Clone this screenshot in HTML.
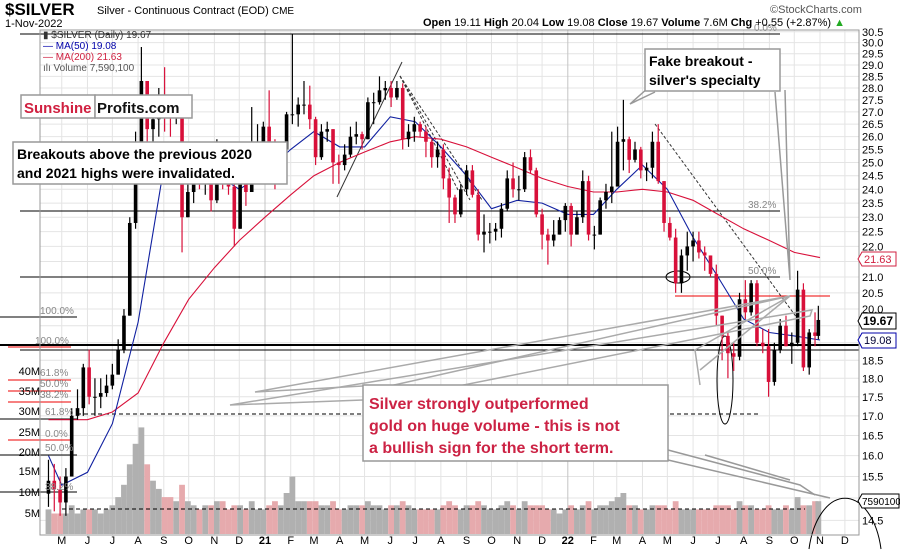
<!DOCTYPE html>
<html><head><meta charset="utf-8"><style>
html,body{margin:0;background:#fff;overflow:hidden;width:900px;height:550px;}
svg{display:block;font-family:"Liberation Sans",sans-serif;overflow:hidden;}
</style></head><body>
<svg id="chart" width="900" height="550" viewBox="0 0 900 550">
<g id="grid"></g>
<g id="vol"></g>
<g id="anno">
  <line x1="20" y1="34" x2="780" y2="34" stroke="#000" stroke-width="1"/>
  <line x1="20" y1="211" x2="780" y2="211" stroke="#000"/>
  <line x1="20" y1="277" x2="780" y2="277" stroke="#000"/>
  <line x1="0" y1="345" x2="859" y2="345" stroke="#000" stroke-width="2"/>
  <line x1="20" y1="350" x2="859" y2="350" stroke="#000"/>
  <line x1="0" y1="317" x2="77" y2="317" stroke="#000"/>
  <line x1="8" y1="347" x2="71" y2="347" stroke="#e00"/>
  <line x1="8" y1="380" x2="71" y2="380" stroke="#e00"/>
  <line x1="8" y1="391" x2="71" y2="391" stroke="#e00"/>
  <line x1="8" y1="402" x2="71" y2="402" stroke="#e00"/>
  <line x1="8" y1="440" x2="71" y2="440" stroke="#e00"/>
  <line x1="0" y1="419" x2="77" y2="419" stroke="#000"/>
  <line x1="0" y1="455" x2="77" y2="455" stroke="#000"/>
  <line x1="0" y1="492" x2="77" y2="492" stroke="#000"/>
  <line x1="77" y1="414" x2="480" y2="414" stroke="#000" stroke-dasharray="4,3"/>
  <line x1="670" y1="414" x2="758" y2="414" stroke="#000" stroke-dasharray="4,3"/>
  <line x1="62" y1="509" x2="805" y2="509" stroke="#000" stroke-dasharray="4,3"/>
  <line x1="675" y1="296" x2="830" y2="296" stroke="#e00"/>
  <ellipse cx="678" cy="277" rx="12" ry="6" fill="none" stroke="#000"/>
  <ellipse cx="725" cy="380" rx="8" ry="44" fill="none" stroke="#000"/>
  <line x1="337" y1="197" x2="402" y2="62" stroke="#333"/>
  <line x1="400" y1="76" x2="482" y2="200" stroke="#333" stroke-dasharray="3,2"/>
  <line x1="400" y1="76" x2="470" y2="200" stroke="#333" stroke-dasharray="3,2"/>
  <line x1="400" y1="76" x2="458" y2="190" stroke="#333" stroke-dasharray="3,2"/>
  <line x1="655" y1="124" x2="800" y2="322" stroke="#333" stroke-dasharray="3,2"/>
  <path d="M809,549 A37,66 0 0 1 881,549" fill="none" stroke="#000"/>
</g>
<g id="ma"></g>
<g id="candles"></g>
<g id="pointers" fill="none" stroke="#999" stroke-width="1.5">
  <polyline points="700,385 695,350 790,296 700,370" stroke="#aaa"/>
  <polyline points="363,386 255,392 790,296 363,392" stroke="#aaa"/>
  <polyline points="363,400 230,405 812,310 810,316 363,405" stroke="#aaa"/>
  <polyline points="668,450 800,485 815,495"/>
  <polyline points="668,460 830,498"/>
  <polyline points="705,455 790,480"/>
  <polyline points="648,88 630,104 655,92"/>
  <polyline points="775,92 790,280 785,90"/>
</g>
<g id="text-anno" font-size="10" fill="#888">
  <text x="754" y="31">0.0%</text>
  <text x="748" y="208">38.2%</text>
  <text x="748" y="274">50.0%</text>
  <text x="40" y="314">100.0%</text>
  <text x="35" y="344">100.0%</text>
  <text x="40" y="376">61.8%</text>
  <text x="40" y="387">50.0%</text>
  <text x="40" y="398">38.2%</text>
  <text x="45" y="415">61.8%</text>
  <text x="45" y="437">0.0%</text>
  <text x="45" y="451">50.0%</text>
  <text x="45" y="490">38.2%</text>
</g>
<g id="volaxis" font-size="11" fill="#000" text-anchor="end">
  <text x="40" y="375">40M</text><text x="40" y="395">35M</text><text x="40" y="415">30M</text>
  <text x="40" y="436">25M</text><text x="40" y="456">20M</text><text x="40" y="475">15M</text>
  <text x="40" y="496">10M</text><text x="40" y="517">5M</text>
</g>
<rect x="40" y="30" width="819" height="505" fill="none" stroke="#999"/>
<g id="yaxis"></g>
<g id="xaxis"></g>
<text x="5" y="15" font-size="17" font-weight="bold">$SILVER</text>
<text x="97" y="14" font-size="11">Silver - Continuous Contract (EOD) <tspan font-size="10">CME</tspan></text>
<text x="5" y="27" font-size="11">1-Nov-2022</text>
<text x="423" y="26" font-size="11"><tspan font-weight="bold">Open</tspan> 19.11 <tspan font-weight="bold">High</tspan> 20.04 <tspan font-weight="bold">Low</tspan> 19.08 <tspan font-weight="bold">Close</tspan> 19.67 <tspan font-weight="bold">Volume</tspan> 7.6M <tspan font-weight="bold">Chg</tspan> +0.55 (+2.87%) <tspan fill="#2a2">▲</tspan></text>
<text x="770" y="13" font-size="11" fill="#555">©StockCharts.com</text>
<g font-size="10">
  <text x="43" y="38" fill="#333">▮ $SILVER (Daily) 19.67</text>
  <text x="43" y="49" fill="#00a">— MA(50) 19.08</text>
  <text x="43" y="60" fill="#d02040">— MA(200) 21.63</text>
  <text x="43" y="71" fill="#555">ılı Volume 7,590,100</text>
</g>
<g font-size="11">
  <polygon points="858,259 862,252 896,252 896,266 862,266" fill="#fff" stroke="#d02040"/>
  <text x="864" y="263" fill="#d02040">21.63</text>
  <polygon points="858,321 862,313 896,313 896,329 862,329" fill="#fff" stroke="#000"/>
  <text x="863" y="325" font-weight="bold" font-size="12">19.67</text>
  <polygon points="858,340 862,333 896,333 896,348 862,348" fill="#fff" stroke="#00a"/>
  <text x="864" y="344" fill="#003">19.08</text>
  <polygon points="858,501 862,494 899,494 899,508 862,508" fill="#fff" stroke="#000"/>
  <text x="862" y="505" font-size="10">7590100</text>
</g>
<g>
  <rect x="21" y="95" width="74" height="23" fill="#fff" stroke="#999" stroke-width="1.5"/>
  <rect x="95" y="95" width="97" height="23" fill="#fff" stroke="#999" stroke-width="1.5"/>
  <text x="24" y="113" font-size="15" font-weight="bold" fill="#d02040">Sunshine</text>
  <text x="97" y="113" font-size="15" font-weight="bold" fill="#111">Profits.com</text>
</g>
<g>
  <rect x="13" y="142" width="274" height="42" fill="#fff" stroke="#999" stroke-width="1.5"/>
  <text x="17" y="159" font-size="14" font-weight="bold">Breakouts above the previous 2020</text>
  <text x="17" y="178" font-size="14" font-weight="bold">and 2021 highs were invalidated.</text>
</g>
<g>
  <rect x="645" y="49" width="135" height="42" fill="#fff" stroke="#999" stroke-width="1.5"/>
  <text x="649" y="66" font-size="14" font-weight="bold">Fake breakout -</text>
  <text x="649" y="85" font-size="14" font-weight="bold">silver's specialty</text>
</g>
<g>
  <rect x="363" y="385" width="305" height="76" fill="#fff" stroke="#999" stroke-width="1.5"/>
  <text x="369" y="409" font-size="16" font-weight="bold" fill="#cc2244">Silver strongly outperformed</text>
  <text x="369" y="431" font-size="16" font-weight="bold" fill="#cc2244">gold on huge volume - this is not</text>
  <text x="369" y="453" font-size="16" font-weight="bold" fill="#cc2244">a bullish sign for the short term.</text>
</g>
</svg>
<script>
const closes = [15.4,15.2,14.9,15.5,17.0,17.2,18.3,17.5,17.5,17.6,17.8,18.1,18.8,19.8,22.8,24.4,28.3,26.3,26.7,27.6,26.9,26.8,26.8,23.0,23.9,25.1,24.3,24.6,23.6,25.6,24.7,24.1,22.6,24.2,23.9,25.8,25.8,
26.4,25.3,24.8,25.5,26.9,26.9,27.3,27.3,26.7,25.2,26.2,26.3,25.0,24.9,25.3,26.0,26.1,25.9,27.4,27.4,27.9,28.0,27.6,28.0,25.9,26.2,26.5,26.2,25.8,25.2,25.5,24.4,23.7,23.1,24.0,24.7,23.8,22.4,22.5,22.5,22.6,23.3,24.4,24.0,24.0,25.2,24.7,23.1,22.4,22.2,22.4,22.9,23.4,
22.4,23.0,24.3,22.4,22.4,23.6,23.9,24.1,25.8,25.9,25.1,25.5,24.7,24.8,25.8,24.3,22.8,22.3,20.8,21.7,22.0,22.2,21.8,21.7,21.1,19.8,19.2,18.7,18.6,20.3,19.9,20.8,19.0,18.9,17.9,18.8,19.5,18.9,19.0,20.6,18.3,19.3,19.2,19.67];
const highs = [15.9,15.8,15.5,15.7,17.2,17.7,18.4,18.8,18.0,18.0,18.1,18.4,19.1,20.0,23.0,26.2,29.8,27.8,27.3,28.0,28.9,27.7,27.6,25.3,24.5,25.3,25.4,25.4,25.0,25.9,25.7,24.8,24.3,24.7,25.0,27.2,26.5,
26.6,27.9,25.9,25.8,27.0,30.4,27.6,28.3,28.1,26.8,26.5,26.6,26.3,25.3,25.7,26.4,26.6,26.2,27.6,27.8,28.5,28.3,28.3,28.3,28.2,26.5,26.8,26.6,26.4,25.9,25.8,25.7,24.8,23.8,24.2,24.9,24.9,24.0,23.1,22.8,22.8,23.5,24.7,25.0,24.5,25.4,25.5,24.8,23.3,22.6,22.9,23.0,23.5,
23.5,23.2,24.7,24.5,22.7,23.7,24.2,26.2,26.4,27.5,26.0,25.8,25.6,25.0,26.2,26.5,24.0,23.0,22.6,21.9,22.5,22.5,22.5,22.0,21.6,21.4,19.8,19.3,19.0,20.5,20.9,20.9,20.9,19.4,19.4,19.0,19.7,19.8,19.3,21.2,20.8,19.4,19.9,20.1];
const lows = [14.8,14.7,14.6,14.6,15.5,16.9,17.0,17.3,17.0,17.2,17.5,17.7,18.1,18.7,19.8,22.6,24.2,24.5,25.8,26.0,26.2,26.0,26.5,21.8,23.3,23.5,24.0,23.8,23.2,23.5,24.0,23.8,22.0,22.6,23.4,24.6,25.2,
24.6,24.4,24.0,24.5,25.2,26.5,26.4,26.9,26.3,24.9,25.1,25.8,24.2,24.2,24.7,25.2,25.7,25.5,25.9,26.5,27.3,27.5,27.2,27.5,25.5,25.6,25.8,26.0,25.2,24.8,24.8,24.0,22.8,22.8,23.0,23.8,23.7,22.2,21.8,22.1,22.2,22.3,23.2,23.7,23.6,23.9,24.6,23.0,21.9,21.4,22.0,22.4,22.5,
22.0,22.4,22.8,22.2,21.9,22.4,23.3,23.5,24.1,24.7,24.6,25.0,24.4,24.3,24.4,24.2,22.5,22.2,20.5,20.5,21.2,21.5,21.6,21.2,21.0,19.5,18.5,18.0,18.2,18.5,19.7,19.8,18.9,18.7,17.5,17.8,18.7,18.9,18.4,18.9,18.2,18.1,18.9,19.1];
const volumesM = [6,5,5,5,7,5,6,6,6,5,6,7,9,12,17,22,26,17,13,11,9,9,8,12,8,7,6,7,7,8,8,6,7,7,6,8,6,
6,7,8,7,10,14,8,8,8,8,7,7,8,6,6,7,7,7,8,7,7,6,7,7,8,7,6,6,6,6,6,7,8,7,6,7,7,8,7,6,6,7,8,7,6,8,7,7,7,6,6,5,6,
7,6,7,8,6,7,7,8,9,10,7,7,6,6,7,7,7,6,8,6,6,6,6,6,6,7,7,7,6,8,7,7,6,6,7,6,6,7,6,9,7,7,8,8];
const maDates = ["2020-04-15","2020-05-01","2020-06-01","2020-07-01","2020-08-01","2020-09-01","2020-10-01","2020-11-01","2020-12-01","2021-01-01","2021-02-01","2021-03-01","2021-04-01","2021-05-01","2021-06-01","2021-07-01","2021-08-01","2021-09-01","2021-10-01","2021-11-01","2021-12-01","2022-01-01","2022-02-01","2022-03-01","2022-04-01","2022-05-01","2022-06-01","2022-07-01","2022-08-01","2022-09-01","2022-10-01","2022-11-01"];
const ma200 = [16.9,16.9,16.9,17.1,17.6,19.0,20.3,21.3,22.2,23.0,23.8,24.5,25.0,25.4,25.8,26.0,25.9,25.6,25.2,24.8,24.4,24.1,23.9,23.9,24.0,23.9,23.6,23.1,22.6,22.2,21.8,21.63];
const ma50 = [16.0,15.3,15.6,16.8,19.6,24.8,25.5,24.6,24.0,24.6,25.5,26.2,25.6,25.6,26.8,26.6,25.6,24.5,23.3,23.6,23.5,23.1,23.1,24.0,24.9,24.0,22.3,21.0,19.7,19.3,19.2,19.08];
const priceTicks = [30.5,30,29.5,29,28.5,28,27.5,27,26.5,26,25.5,25,24.5,24,23.5,23,22.5,22,21.5,21,20.5,20,19.5,19,18.5,18,17.5,17,16.5,16,15.5,15,14.5];
const monthLabels = ["M","J","J","A","S","O","N","D","21","F","M","A","M","J","J","A","S","O","N","D","22","F","M","A","M","J","J","A","S","O","N","D"];

const NS="http://www.w3.org/2000/svg";
const T0=Date.UTC(2021,0,1), DAY=86400000;
function xOf(t){return 265+(t-T0)/DAY*0.8296;}
function yOf(p){return 277-657*Math.log(p/21);}
function yVol(v){return 534-v*4.1;}
function mk(tag,attrs,parent){const e=document.createElementNS(NS,tag);for(const k in attrs)e.setAttribute(k,attrs[k]);parent.appendChild(e);return e;}

const grid=document.getElementById('grid');
priceTicks.forEach(p=>{
  const l=mk('line',{x1:40,x2:859,y1:yOf(p),y2:yOf(p),stroke:'#e4e4e4'},grid);
  
  
});
const xaxis=document.getElementById('xaxis');
monthLabels.forEach((lab,i)=>{
  const t=Date.UTC(2020,4+i,1);
  const x=xOf(t);
  const gl=mk('line',{x1:x,x2:x,y1:30,y2:535,stroke:(lab==="21"||lab==="22")?'#c4c4c4':'#e4e4e4'},grid);
  
  
  const tx=mk('text',{x:x,y:544,'font-size':11,'text-anchor':'middle','font-weight':(lab.length>1?'bold':'normal')},xaxis);
  tx.textContent=lab;
  
  
});
const yaxis=document.getElementById('yaxis');
priceTicks.forEach(p=>{
  const tx=mk('text',{x:862,y:yOf(p)+4,'font-size':11},yaxis);
  tx.textContent=p.toFixed(1);
  
  
});
const cg=document.getElementById('candles'), vg=document.getElementById('vol');
const start=Date.UTC(2020,3,17);
closes.forEach((c,i)=>{
  const t = i===closes.length-1 ? Date.UTC(2022,10,1) : start+i*7*DAY;
  const x=xOf(t-2*DAY);
  const o = i===0 ? lows[0]+0.3 : closes[i-1];
  const up=c>=o;
  const col=up?'#000':'#d8103a';
  const hi=Math.max(highs[i],o,c), lo=Math.min(lows[i],o,c);
  const w=mk('line',{x1:x,x2:x,y1:yOf(hi),y2:yOf(lo),stroke:col,'stroke-width':1.2},cg);
  
  
  const b=mk('rect',{x:x-1.8,y:yOf(Math.max(o,c)),width:3.6,height:Math.max(1,Math.abs(yOf(o)-yOf(c))),fill:col},cg);
  
  
  const v=mk('rect',{x:x-2.9,y:yVol(volumesM[i]),width:5.8,height:534-yVol(volumesM[i]),fill:up?'#b0b0b0':'#e6aaad'},vg);
  
  
});
const mg=document.getElementById('ma');
function maPath(arr,col,name){
  const d=arr.map((v,i)=>(i?'L':'M')+xOf(Date.parse(maDates[i])).toFixed(1)+','+yOf(v).toFixed(1)).join(' ');
  const p=mk('path',{d:d,fill:'none',stroke:col,'stroke-width':1.1},mg);
  
  
}
maPath(ma200,'#d8103a','ma200-line');
maPath(ma50,'#1020a0','ma50-line');
</script>
</body></html>
